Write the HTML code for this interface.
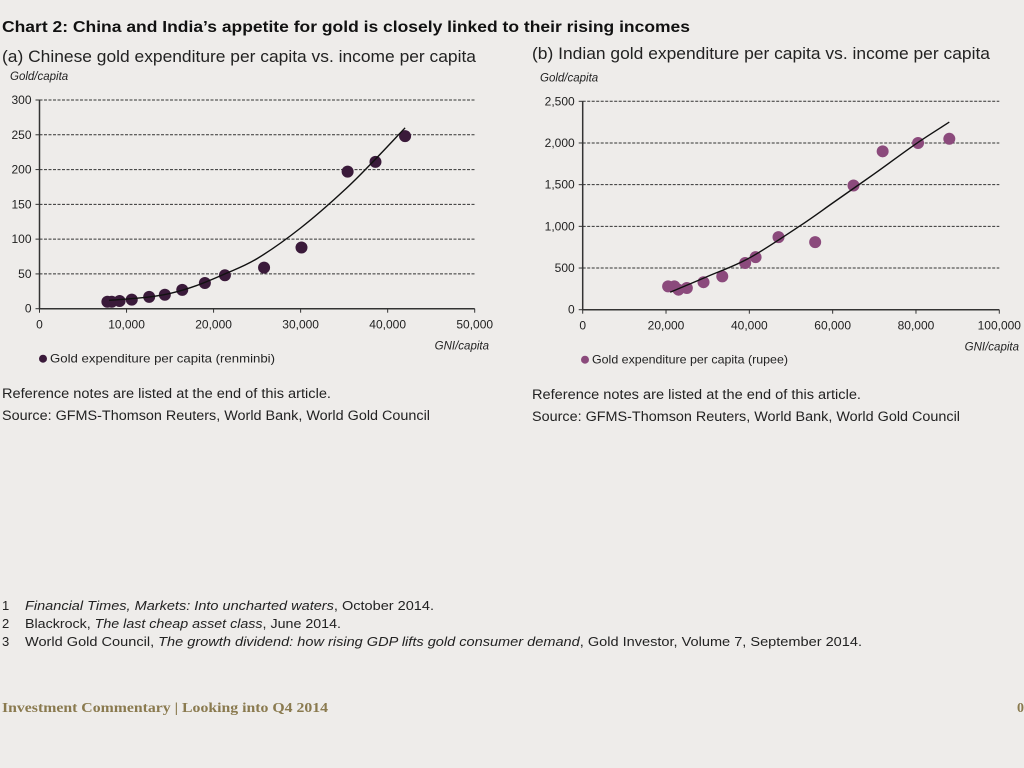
<!DOCTYPE html>
<html><head><meta charset="utf-8">
<style>
html,body{margin:0;padding:0;background:#eeecea;width:1024px;height:768px;overflow:hidden}
svg{display:block;font-family:"Liberation Sans",sans-serif}
</style></head>
<body>
<svg id="s" width="1024" height="768" viewBox="0 0 1024 768">
<text x="2" y="32" font-size="16" font-weight="bold" fill="#111" textLength="688" lengthAdjust="spacingAndGlyphs">Chart 2: China and India’s appetite for gold is closely linked to their rising incomes</text>
<text x="2" y="62" font-size="17" fill="#222" textLength="474" lengthAdjust="spacingAndGlyphs">(a) Chinese gold expenditure per capita vs. income per capita</text>
<text x="532" y="59" font-size="17" fill="#222" textLength="458" lengthAdjust="spacingAndGlyphs">(b) Indian gold expenditure per capita vs. income per capita</text>
<g id="ca"></g>
<g id="cb"></g>
<text x="2" y="398" font-size="13.5" fill="#222" textLength="329" lengthAdjust="spacingAndGlyphs">Reference notes are listed at the end of this article.</text>
<text x="2" y="420" font-size="13.5" fill="#222" textLength="428" lengthAdjust="spacingAndGlyphs">Source: GFMS-Thomson Reuters, World Bank, World Gold Council</text>
<text x="532" y="399" font-size="13.5" fill="#222" textLength="329" lengthAdjust="spacingAndGlyphs">Reference notes are listed at the end of this article.</text>
<text x="532" y="421" font-size="13.5" fill="#222" textLength="428" lengthAdjust="spacingAndGlyphs">Source: GFMS-Thomson Reuters, World Bank, World Gold Council</text>
<g font-size="13" fill="#222">
<text x="2" y="610">1</text><text x="25" y="610" textLength="409" lengthAdjust="spacingAndGlyphs"><tspan font-style="italic">Financial Times, Markets: Into uncharted waters</tspan>, October 2014.</text>
<text x="2" y="628">2</text><text x="25" y="628" textLength="316" lengthAdjust="spacingAndGlyphs">Blackrock, <tspan font-style="italic">The last cheap asset class</tspan>, June 2014.</text>
<text x="2" y="646">3</text><text x="25" y="646" textLength="837" lengthAdjust="spacingAndGlyphs">World Gold Council, <tspan font-style="italic">The growth dividend: how rising GDP lifts gold consumer demand</tspan>, Gold Investor, Volume 7, September 2014.</text>
</g>
<text x="2" y="712" font-size="14" font-weight="bold" font-family="Liberation Serif,serif" fill="#8a7a4f" textLength="326" lengthAdjust="spacingAndGlyphs">Investment Commentary | Looking into Q4 2014</text>
<text x="1017" y="712" font-size="14" font-weight="bold" font-family="Liberation Serif,serif" fill="#8a7a4f">0</text>
</svg>
<script>
const chinaX=[7800,8300,9200,10600,12600,14400,16400,19000,21300,25800,30100,35400,38600,42000];
const chinaY=[10,10,11,13,17,20,27,37,48,59,88,197,211,248];
const chinaTrendX=[8000,12000,15000,18000,21300,25000,30000,35000,38600,42000];
const chinaTrendY=[12,16,22,33,50,72,116,170,215,260];
const chinaYTicks=[0,50,100,150,200,250,300];
const chinaXTicks=[0,10000,20000,30000,40000,50000];
const indiaX=[20500,22000,23000,25000,29000,33500,39000,41500,47000,55800,65000,72000,80500,88000];
const indiaY=[280,280,240,260,330,400,560,630,870,810,1490,1900,2000,2050];
const indiaTrendX=[21000,30000,40000,52000,60000,70000,80000,88000];
const indiaTrendY=[210,400,620,1000,1280,1630,1990,2250];
const indiaYTicks=[0,500,1000,1500,2000,2500];
const indiaXTicks=[0,20000,40000,60000,80000,100000];
const NS="http://www.w3.org/2000/svg";
function mk(p,t,a){const e=document.createElementNS(NS,t);for(const k in a)e.setAttribute(k,a[k]);p.appendChild(e);return e;}
function fmt(v){return v.toLocaleString('en-US');}
function smooth(P){
  let d='M'+P[0][0].toFixed(1)+','+P[0][1].toFixed(1);
  for(let i=0;i<P.length-1;i++){
    const p0=P[Math.max(0,i-1)],p1=P[i],p2=P[i+1],p3=P[Math.min(P.length-1,i+2)];
    const c1=[p1[0]+(p2[0]-p0[0])/6,p1[1]+(p2[1]-p0[1])/6];
    const c2=[p2[0]-(p3[0]-p1[0])/6,p2[1]-(p3[1]-p1[1])/6];
    d+='C'+c1.map(v=>v.toFixed(1)).join(',')+' '+c2.map(v=>v.toFixed(1)).join(',')+' '+p2.map(v=>v.toFixed(1)).join(',');
  }
  return d;
}
function draw(g,cfg){
  const sx=v=>cfg.x0+(v-cfg.xmin)/(cfg.xmax-cfg.xmin)*(cfg.x1-cfg.x0);
  const sy=v=>cfg.y0-(v-cfg.ymin)/(cfg.ymax-cfg.ymin)*(cfg.y0-cfg.y1);
  cfg.yt.forEach(v=>{
    if(v>0){const l=mk(g,'line',{x1:cfg.x0,x2:cfg.x1,y1:sy(v),y2:sy(v),stroke:'#333','stroke-width':1,'stroke-dasharray':'3,1.5'});
    
    }
    mk(g,'line',{x1:cfg.x0-4,x2:cfg.x0,y1:sy(v),y2:sy(v),stroke:'#333'});
    const t=mk(g,'text',{x:cfg.x0-8,y:sy(v)+4,'font-size':12,'text-anchor':'end',fill:'#222'});t.textContent=fmt(v);
    
    
  });
  cfg.xt.forEach(v=>{
    mk(g,'line',{x1:sx(v),x2:sx(v),y1:cfg.y0,y2:cfg.y0+4,stroke:'#333'});
    const t=mk(g,'text',{x:sx(v),y:cfg.y0+20,'font-size':12,'text-anchor':'middle',fill:'#222'});t.textContent=fmt(v);
    
    
  });
  const ax=mk(g,'path',{d:`M${cfg.x0},${cfg.y1}V${cfg.y0}H${cfg.x1}`,fill:'none',stroke:'#333','stroke-width':1.5});
  
  
  const yt=mk(g,'text',{x:cfg.ytx,y:cfg.y1-20,'font-size':11.5,'font-style':'italic',fill:'#222'});yt.textContent='Gold/capita';
  
  
  const xt=mk(g,'text',{x:cfg.xtx,y:cfg.y0+41,'font-size':11.5,'font-style':'italic','text-anchor':'end',fill:'#222'});xt.textContent='GNI/capita';
  
  
  cfg.xs.forEach((v,i)=>{
    const c=mk(g,'circle',{cx:sx(v),cy:sy(cfg.ys[i]),r:6,fill:cfg.col});
    
    
  });
  const P=cfg.tx.map((v,i)=>[sx(v),sy(cfg.ty[i])]);
  const tl=mk(g,'path',{d:smooth(P),fill:'none',stroke:'#111','stroke-width':1.4});
  
  
  mk(g,'circle',{cx:cfg.lx,cy:cfg.y0+50,r:4,fill:cfg.col});
  const lt=mk(g,'text',{x:cfg.lx+7,y:cfg.y0+54,'font-size':12,fill:'#222',textLength:cfg.lw,lengthAdjust:'spacingAndGlyphs'});lt.textContent=cfg.leg;
  
  
}
draw(document.getElementById('ca'),{x0:39.5,x1:474.7,y0:308.7,y1:100,xmin:0,xmax:50000,ymin:0,ymax:300,
 yt:chinaYTicks,xt:chinaXTicks,xs:chinaX,ys:chinaY,tx:chinaTrendX,ty:chinaTrendY,col:'#3a1a3a',
 ytx:10,xtx:489,lx:43,lw:225,leg:'Gold expenditure per capita (renminbi)'});
draw(document.getElementById('cb'),{x0:582.7,x1:999.3,y0:309.7,y1:101.3,xmin:0,xmax:100000,ymin:0,ymax:2500,
 yt:indiaYTicks,xt:indiaXTicks,xs:indiaX,ys:indiaY,tx:indiaTrendX,ty:indiaTrendY,col:'#8b4a7c',
 ytx:540,xtx:1019,lx:585,lw:196,leg:'Gold expenditure per capita (rupee)'});
</script>
</body></html>
